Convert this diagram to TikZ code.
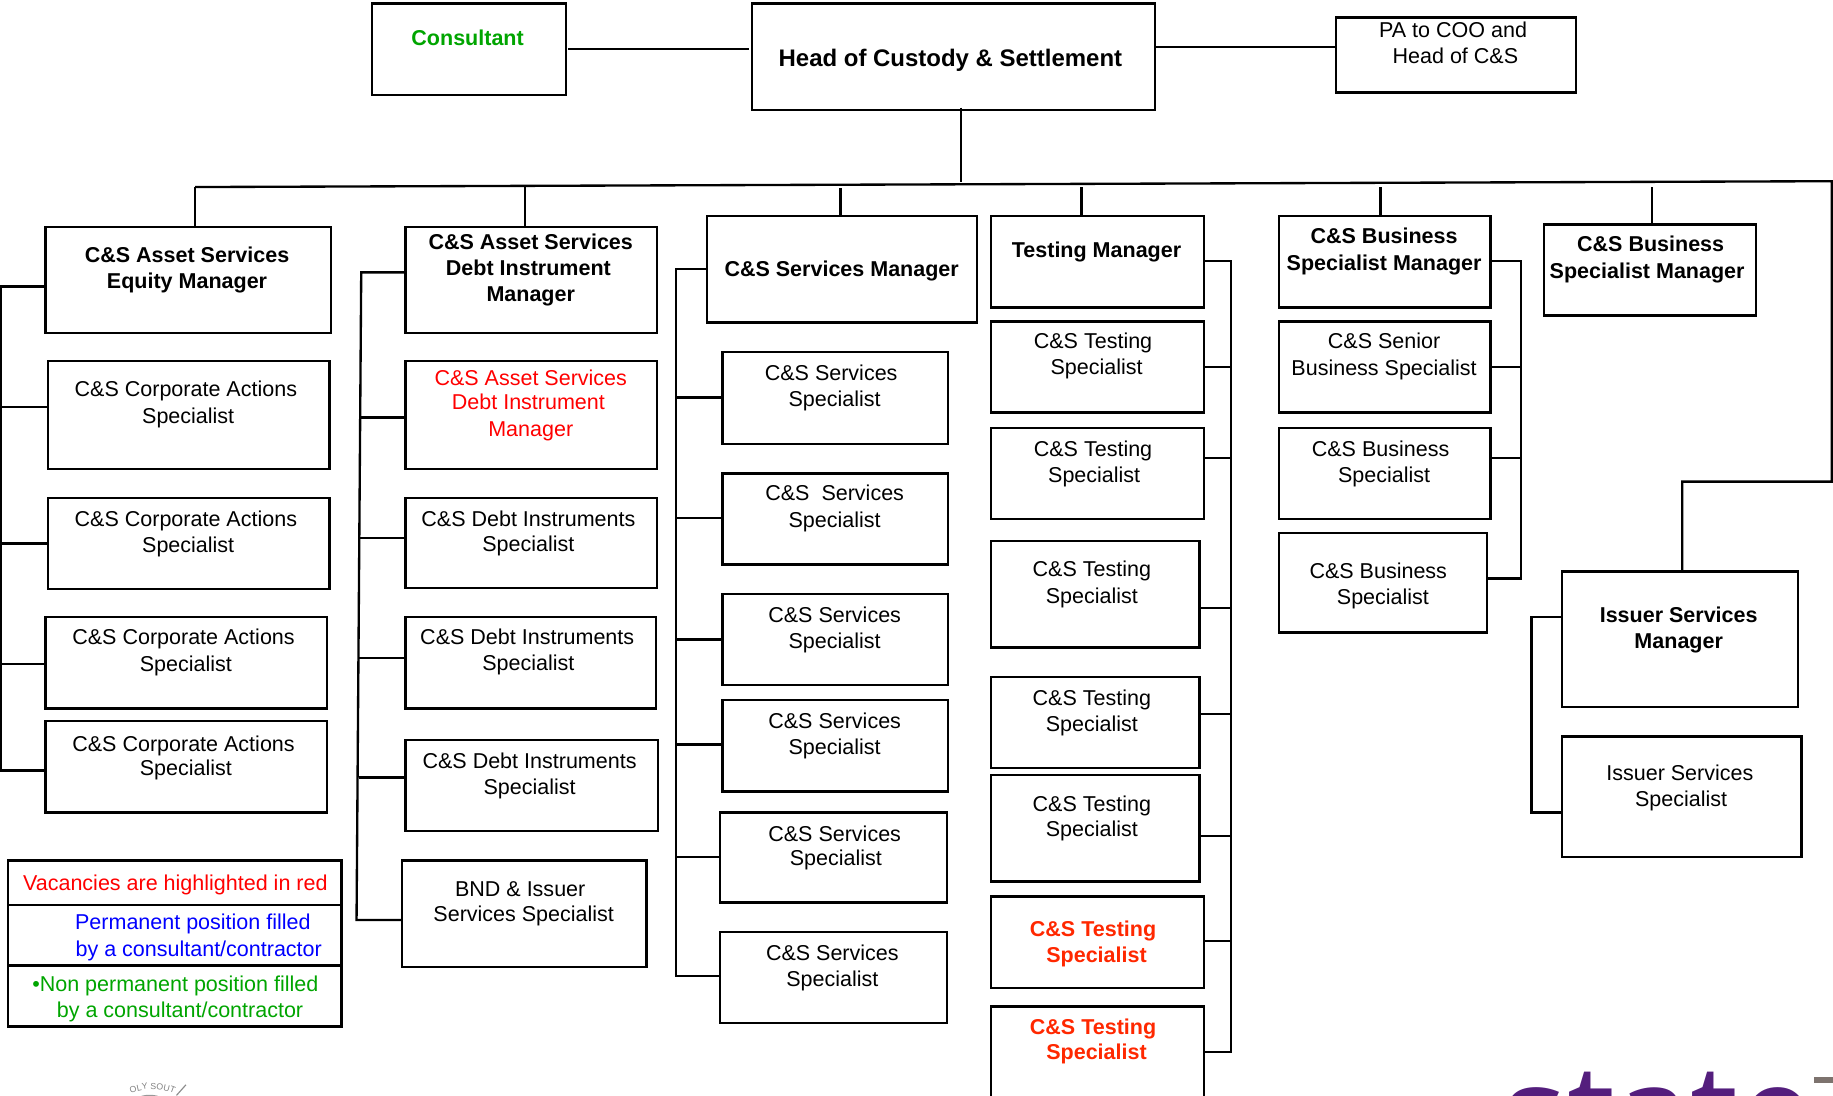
\documentclass[tikz,border=0pt]{standalone}
\usepackage{fontspec}
\setmainfont{Liberation Sans}
\usetikzlibrary{decorations.text}
\tikzset{
  bx/.style={draw=black,line width=2pt,fill=white,inner sep=0pt,outer sep=0pt,rectangle},
  tx/.style={inner sep=0pt,outer sep=0pt,align=center,font=\fsz,anchor=center,text height=13pt,text depth=0pt},
  tb/.style={tx,font=\fsz\bfseries},
  ln/.style={draw=black,line width=2pt},
}
\newcommand{\fsz}{\fontsize{18.4}{22}\selectfont}
\definecolor{redv}{RGB}{255,0,0}
\definecolor{redo}{RGB}{255,40,0}
\definecolor{bluev}{RGB}{0,0,255}
\definecolor{greenv}{RGB}{0,165,0}
\definecolor{purp}{RGB}{84,30,125}
\definecolor{grm}{RGB}{125,115,110}
% \B{name}{x1}{y1}{x2}{y2}
\newcommand{\B}[5]{%
  \pgfmathsetlengthmacro{\bw}{#4-#2}\pgfmathsetlengthmacro{\bh}{#5-#3}%
  \node[bx,minimum width=\bw,minimum height=\bh,anchor=north west] (#1) at (#2,#3) {};}
% \T{name}{x}{y}{style}{text}
\newcommand{\T}[5]{\node[#4] (#1) at (#2,#3) {#5};}
\begin{document}
\begin{tikzpicture}[x=1pt,y=-1pt]
\useasboundingbox (0,0) rectangle (1568,937);
\clip (0,0) rectangle (1568,937);
% top
\B{cons}{318}{3}{484}{81}
\T{consT}{400}{32}{tb,text=greenv}{Consultant}
\B{head}{643}{3}{988}{94}
\T{headT}{813}{50}{tb,font=\fontsize{20.5}{24}\selectfont\bfseries}{Head of Custody \& Settlement}
\B{pa}{1143}{15}{1348}{79}
\T{paA}{1243}{26}{tx}{PA to COO and}
\T{paB}{1245}{48}{tx}{Head of C\&S}
\coordinate (c1) at (486,42); \coordinate (c2) at (641,42);
\draw[ln] (c1) -- (c2);
\coordinate (c3) at (988,40);\coordinate (c4) at (1143,40);
\draw[ln] (c3) -- (c4);
% trunk
\coordinate (hd) at (822,92);
\coordinate (tj) at (822,156);
\draw[ln] (hd) -- (tj);
\coordinate (tl) at (167,160);
\coordinate (tr) at (1567,155);
\coordinate (tr2) at (1567,412);
\coordinate (tr3) at (1439,412);
% column 1
\B{a0}{39}{194}{283}{285}
\T{a0A}{160}{218}{tb}{C\&S Asset Services}
\T{a0B}{160}{240}{tb}{Equity Manager}
\B{a1}{41}{309}{282}{401}
\T{a1A}{159}{333}{tx}{C\&S Corporate Actions}
\T{a1B}{161}{356}{tx}{Specialist}
\B{a2}{41}{426}{282}{504}
\T{a2A}{159}{444}{tx}{C\&S Corporate Actions}
\T{a2B}{161}{466}{tx}{Specialist}
\B{a3}{39}{528}{280}{606}
\T{a3A}{157}{545}{tx}{C\&S Corporate Actions}
\T{a3B}{159}{568}{tx}{Specialist}
\B{a4}{39}{617}{280}{695}
\T{a4A}{157}{636}{tx}{C\&S Corporate Actions}
\T{a4B}{159}{657}{tx}{Specialist}
% column 2
\B{b0}{347}{194}{562}{285}
\T{b0A}{454}{207}{tb}{C\&S Asset Services}
\T{b0B}{452}{229}{tb}{Debt Instrument}
\T{b0C}{454}{251}{tb}{Manager}
\B{b1}{347}{309}{562}{401}
\T{b1A}{454}{323}{tx,text=redv}{C\&S Asset Services}
\T{b1B}{452}{344}{tx,text=redv}{Debt Instrument}
\T{b1C}{454}{367}{tx,text=redv}{Manager}
\B{b2}{347}{426}{562}{503}
\T{b2A}{452}{444}{tx}{C\&S Debt Instruments}
\T{b2B}{452}{465}{tx}{Specialist}
\B{b3}{347}{528}{561}{606}
\T{b3A}{451}{545}{tx}{C\&S Debt Instruments}
\T{b3B}{452}{567}{tx}{Specialist}
\B{b4}{347}{633}{563}{711}
\T{b4A}{453}{651}{tx}{C\&S Debt Instruments}
\T{b4B}{453}{673}{tx}{Specialist}
\B{b5}{344}{736}{553}{827}
\T{b5A}{445}{760}{tx}{BND \& Issuer}
\T{b5B}{448}{782}{tx}{Services Specialist}
% column 3
\B{c0}{605}{185}{836}{276}
\T{c0A}{720}{230}{tb}{C\&S Services Manager}
\B{d1}{618}{301}{811}{380}
\T{d1A}{711}{319}{tx}{C\&S Services}
\T{d1B}{714}{341}{tx}{Specialist}
\B{d2}{618}{405}{811}{483}
\T{d2A}{714}{422}{tx}{C\&S\ \ Services}
\T{d2B}{714}{445}{tx}{Specialist}
\B{d3}{618}{508}{811}{586}
\T{d3A}{714}{526}{tx}{C\&S Services}
\T{d3B}{714}{548}{tx}{Specialist}
\B{d4}{618}{599}{811}{677}
\T{d4A}{714}{617}{tx}{C\&S Services}
\T{d4B}{714}{639}{tx}{Specialist}
\B{d5}{616}{695}{810}{772}
\T{d5A}{714}{713}{tx}{C\&S Services}
\T{d5B}{715}{734}{tx}{Specialist}
\B{d6}{616}{797}{810}{875}
\T{d6A}{712}{815}{tx}{C\&S Services}
\T{d6B}{712}{837}{tx}{Specialist}
% column 4
\B{e0}{848}{185}{1030}{263}
\T{e0A}{938}{214}{tb}{Testing Manager}
\B{e1}{848}{275}{1030}{353}
\T{e1A}{935}{292}{tx}{C\&S Testing}
\T{e1B}{938}{314}{tx}{Specialist}
\B{e2}{848}{366}{1030}{444}
\T{e2A}{935}{384}{tx}{C\&S Testing}
\T{e2B}{936}{406}{tx}{Specialist}
\B{e3}{848}{463}{1026}{554}
\T{e3A}{934}{487}{tx}{C\&S Testing}
\T{e3B}{934}{510}{tx}{Specialist}
\B{e4}{848}{579}{1026}{657}
\T{e4A}{934}{597}{tx}{C\&S Testing}
\T{e4B}{934}{619}{tx}{Specialist}
\B{e5}{848}{663}{1026}{754}
\T{e5A}{934}{688}{tx}{C\&S Testing}
\T{e5B}{934}{709}{tx}{Specialist}
\B{e6}{848}{767}{1030}{845}
\T{e6A}{935}{795}{tb,text=redo}{C\&S Testing}
\T{e6B}{938}{817}{tb,text=redo}{Specialist}
\B{e7}{848}{861}{1030}{960}
\T{e7A}{935}{878}{tb,text=redo}{C\&S Testing}
\T{e7B}{938}{900}{tb,text=redo}{Specialist}
% column 5
\B{f0}{1094}{185}{1275}{263}
\T{f0A}{1184}{202}{tb}{C\&S Business}
\T{f0B}{1184}{225}{tb}{Specialist Manager}
\B{f1}{1094}{275}{1275}{353}
\T{f1A}{1184}{292}{tx}{C\&S Senior}
\T{f1B}{1184}{315}{tx}{Business Specialist}
\B{f2}{1094}{366}{1275}{444}
\T{f2A}{1181}{384}{tx}{C\&S Business}
\T{f2B}{1184}{406}{tx}{Specialist}
\B{f3}{1094}{456}{1272}{541}
\T{f3A}{1179}{488}{tx}{C\&S Business}
\T{f3B}{1183}{511}{tx}{Specialist}
% column 6
\B{g0}{1321}{192}{1502}{270}
\T{g0A}{1412}{209}{tb}{C\&S Business}
\T{g0B}{1409}{232}{tb}{Specialist Manager}
\B{h0}{1336}{489}{1538}{605}
\T{h0A}{1436}{526}{tb}{Issuer Services}
\T{h0B}{1436}{548}{tb}{Manager}
\B{h1}{1336}{630}{1541}{733}
\T{h1A}{1437}{661}{tx}{Issuer Services}
\T{h1B}{1438}{683}{tx}{Specialist}
% trunk line
\draw[ln,line join=miter] (tl) -- (tr) -- (tr2) -- (tr3) -- (h0.north -| tr3);
\coordinate (t1) at (449,160);\coordinate (t2) at (719,161);\coordinate (t3) at (925,160);
\coordinate (t4) at (1181,160);\coordinate (t5) at (1413,160);
\draw[ln] (tl) -- (a0.north -| tl);
\draw[ln] (t1) -- (b0.north -| t1);
\draw[ln] (t2) -- (c0.north -| t2);
\draw[ln] (t3) -- (e0.north -| t3);
\draw[ln] (t4) -- (f0.north -| t4);
\draw[ln] (t5) -- (g0.north -| t5);
% bus 1
\coordinate (p1) at (1,245);\coordinate (p2) at (1,348);\coordinate (p3) at (1,465);
\coordinate (p4) at (1,568);\coordinate (p5) at (1,659);
\draw[ln,line join=miter] (a0.west |- p1) -- (p1) -- (p5) -- (a4.west |- p5);
\draw[ln] (p2) -- (a1.west |- p2);
\draw[ln] (p3) -- (a2.west |- p3);
\draw[ln] (p4) -- (a3.west |- p4);
% bus 2
\coordinate (q0) at (309,233);\coordinate (q1) at (308.5,357);\coordinate (q2) at (308,460);
\coordinate (q3) at (307.5,563);\coordinate (q4) at (307,665);\coordinate (q5) at (305,787);
\draw[ln,line join=miter] (b0.west |- q0) -- (q0) -- (q5) -- (b5.west |- q5);
\draw[ln] (q1) -- (b1.west |- q1);
\draw[ln] (q2) -- (b2.west |- q2);
\draw[ln] (q3) -- (b3.west |- q3);
\draw[ln] (q4) -- (b4.west |- q4);
% bus 3
\coordinate (r0) at (578,230);\coordinate (r1) at (578,340);\coordinate (r2) at (578,443);
\coordinate (r3) at (578,547);\coordinate (r4) at (578,637);\coordinate (r5) at (578,733);\coordinate (r6) at (578,835);
\draw[ln,line join=miter] (c0.west |- r0) -- (r0) -- (r6) -- (d6.west |- r6);
\draw[ln] (r1) -- (d1.west |- r1);
\draw[ln] (r2) -- (d2.west |- r2);
\draw[ln] (r3) -- (d3.west |- r3);
\draw[ln] (r4) -- (d4.west |- r4);
\draw[ln] (r5) -- (d5.west |- r5);
% bus 4
\coordinate (s0) at (1053,223);\coordinate (s1) at (1053,314);\coordinate (s2) at (1053,392);
\coordinate (s3) at (1053,520);\coordinate (s4) at (1053,611);\coordinate (s5) at (1053,715);
\coordinate (s6) at (1053,805);\coordinate (s7) at (1053,900);
\draw[ln,line join=miter] (e0.east |- s0) -- (s0) -- (s7) -- (e7.east |- s7);
\draw[ln] (s1) -- (e1.east |- s1);
\draw[ln] (s2) -- (e2.east |- s2);
\draw[ln] (s3) -- (e3.east |- s3);
\draw[ln] (s4) -- (e4.east |- s4);
\draw[ln] (s5) -- (e5.east |- s5);
\draw[ln] (s6) -- (e6.east |- s6);
% bus 5
\coordinate (u0) at (1301,223);\coordinate (u1) at (1301,314);\coordinate (u2) at (1301,392);\coordinate (u3) at (1301,495);
\draw[ln,line join=miter] (f0.east |- u0) -- (u0) -- (u3) -- (f3.east |- u3);
\draw[ln] (u1) -- (f1.east |- u1);
\draw[ln] (u2) -- (f2.east |- u2);
% bus 6
\coordinate (v0) at (1310,528);\coordinate (v1) at (1310,695);
\draw[ln,line join=miter] (h0.west |- v0) -- (v0) -- (v1) -- (h1.west |- v1);
% legend
\B{l1}{7}{736}{292}{774}
\T{l1A}{150}{755}{tx,text=redv}{Vacancies are highlighted in red}
\B{l2}{7}{774}{292}{826}
\T{l2A}{165}{789}{tx,text=bluev}{Permanent position filled}
\T{l2B}{170}{812}{tx,text=bluev}{by a consultant/contractor}
\B{l3}{7}{826}{292}{878}
\T{l3A}{150}{842}{tx,text=greenv}{•Non permanent position filled}
\T{l3B}{154}{864}{tx,text=greenv}{by a consultant/contractor}
% logo fragments
\node[inner sep=0pt,outer sep=0pt,anchor=center,font=\fontsize{116}{116}\selectfont\fontspec{Open Sans},text=purp] (logo) at (1419,956) {state};
\fill[grm] (1552,921) rectangle (1568,926);
\path[decorate,decoration={text along path,text align=center,text={|\fontsize{7.5}{8}\selectfont\color{black!50}|OLY SOUT}}] (109,937) .. controls (120,930) and (140,930) .. (152,937);
\fill[black!40] (128,939) ellipse [x radius=9,y radius=2.5];
\draw[black!45,line width=1pt] (151,937) -- (159,928);
\end{tikzpicture}
\end{document}
